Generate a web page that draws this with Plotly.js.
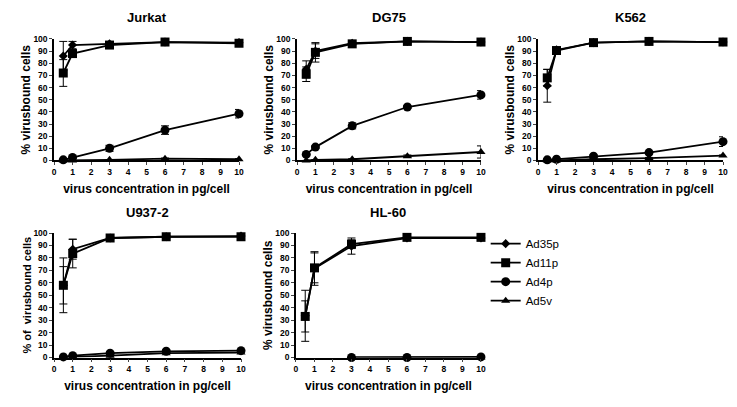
<!DOCTYPE html>
<html>
<head>
<meta charset="utf-8">
<script src="https://cdn.plot.ly/plotly-3.0.1.min.js"></script>
<style>
  html, body { margin: 0; padding: 0; background: #fff; }
  #chart { width: 737px; height: 407px; }
</style>
</head>
<body>
<div id="chart"></div>
<script>
// virus dose (pg/cell) shared by every panel
const doses = [0.5, 1, 3, 6, 10];
const seriesNames = ["Ad35p", "Ad11p", "Ad4p", "Ad5v"];
const cellLines = ["Jurkat", "DG75", "K562", "U937-2", "HL-60"];

// rows follow seriesNames: Ad35p, Ad11p, Ad4p, Ad5v
const jurkatMean = [
  [86, 95, 96, 97.5, 97],
  [72, 88, 95, 97.5, 96.5],
  [0.5, 2.5, 10, 25, 38.5],
  [0, 0, 0.5, 1.5, 1]
];
const jurkatErr = [
  [12, 3, 1, 1, 1],
  [11, 3, 1, 1, 1],
  [0, 1, 2.5, 3.5, 3.5],
  [0, 0, 0, 0.5, 0.5]
];

const dg75Mean = [
  [75, 90, 96.5, 98, 97.5],
  [71, 89, 96, 98, 97.5],
  [5, 11, 28.5, 44, 54],
  [0, 0.5, 1, 3.5, 7]
];
const dg75Err = [
  [7, 6, 1, 1, 1],
  [6, 8, 1, 1, 1],
  [0.5, 1, 2.5, 1, 3.5],
  [0, 0, 0.5, 1, 5]
];

const k562Mean = [
  [61.5, 91, 97, 98, 97.5],
  [68, 90.5, 97, 98, 97.5],
  [0.5, 1, 3.5, 6.5, 15.5],
  [0, 0, 1, 2, 4]
];
const k562Err = [
  [13.5, 1, 1, 1, 1],
  [7, 1, 1, 1, 1],
  [0, 0.5, 1, 1, 4],
  [0, 0, 0.5, 0.5, 0.5]
];

const u937Mean = [
  [58, 87, 96, 97, 97.5],
  [58, 83.5, 96, 97, 97],
  [0.5, 1.5, 3.5, 5, 5.5],
  [0, 0.5, 1.5, 3.5, 4]
];
const u937Err = [
  [22, 8, 1, 1, 1],
  [15, 11.5, 1, 1, 1],
  [0, 0.5, 1, 1, 1],
  [0, 0, 0.5, 0.5, 0.5]
];

const hl60Mean = [
  [33.5, 71.5, 89.5, 96, 96],
  [33, 72, 91, 96.5, 96.5],
  [null, null, 0, 0, 0.5],
  [null, null, 0, 0, 0]
];
const hl60Err = [
  [20.5, 13.5, 6.5, 1, 1],
  [12.5, 12, 3.5, 1, 1],
  [0, 0, 0, 0, 0],
  [0, 0, 0, 0, 0]
];

const yTitles = [
  "% virusbound cells", "% virusbound cells", "% virusbound cells",
  "% of  virusbound cells", "% virusbound cells"
];

const panelMeans = [jurkatMean, dg75Mean, k562Mean, u937Mean, hl60Mean];
const panelErrs = [jurkatErr, dg75Err, k562Err, u937Err, hl60Err];

const symbols = ["diamond", "square", "circle", "triangle-up"];
const symbolSizes = [7, 9, 9, 8];

// panel placement in paper fractions
const xDomains = [[0.0733, 0.3243], [0.4030, 0.6526], [0.7300, 0.9810], [0.0733, 0.3270], [0.4016, 0.6526]];
const yDomains = [[0.6057, 0.9042], [0.6057, 0.9042], [0.6057, 0.9042], [0.1216, 0.4275], [0.1216, 0.4275]];
const titleY = [0.9558, 0.9558, 0.9558, 0.4767, 0.4767];

const FONT = "Liberation Sans, Arial, Helvetica, sans-serif";

const traces = [];
cellLines.forEach((cell, p) => {
  const ax = p === 0 ? "" : String(p + 1);
  seriesNames.forEach((name, s) => {
    traces.push({
      type: "scatter",
      mode: "lines+markers",
      x: doses,
      y: panelMeans[p][s],
      name: name,
      legendgroup: name,
      showlegend: p === 0,
      xaxis: "x" + ax,
      yaxis: "y" + ax,
      cliponaxis: false,
      line: { color: "#000", width: 1.8 },
      marker: { symbol: symbols[s], size: symbolSizes[s], color: "#000" },
      error_y: { type: "data", array: panelErrs[p][s], visible: true, color: "#000", thickness: 1, width: 4 },
      hovertemplate: `<b>${cell} ${name}</b><br>%{x} pg/cell — %{y}%<extra></extra>`
    });
  });
});

const layout = {
  width: 737,
  height: 407,
  paper_bgcolor: "#fff",
  plot_bgcolor: "rgba(0,0,0,0)",
  margin: { l: 0, r: 0, t: 0, b: 0 },
  font: { family: FONT, color: "#000" },
  showlegend: true,
  legend: {
    x: 0.659, y: 0.437, xanchor: "left", yanchor: "top",
    font: { family: FONT, size: 11.5, color: "#000" },
    itemwidth: 30, tracegroupgap: 0, bgcolor: "rgba(0,0,0,0)"
  },
  annotations: []
};

cellLines.forEach((cell, p) => {
  const ax = p === 0 ? "" : String(p + 1);
  layout["xaxis" + ax] = {
    domain: xDomains[p],
    anchor: "y" + ax,
    range: [0, 10],
    dtick: 1,
    tick0: 0,
    ticks: "outside",
    ticklen: 3,
    tickwidth: 1,
    showline: true,
    linecolor: "#000",
    linewidth: 1.5,
    showgrid: false,
    zeroline: false,
    tickfont: { family: FONT, size: 8.5, weight: "bold" },
    title: { text: "virus concentration in pg/cell", font: { family: FONT, size: 12, weight: "bold" }, standoff: 8 }
  };
  layout["yaxis" + ax] = {
    domain: yDomains[p],
    anchor: "x" + ax,
    range: [0, 100],
    dtick: 10,
    tick0: 0,
    ticks: "outside",
    ticklen: 3,
    tickwidth: 1,
    showline: true,
    linecolor: "#000",
    linewidth: 1.5,
    showgrid: false,
    zeroline: false,
    tickfont: { family: FONT, size: 8.5, weight: "bold" },
    title: { text: yTitles[p], font: { family: FONT, size: p === 3 ? 11 : 12, weight: "bold" }, standoff: 0 }
  };
  layout.annotations.push({
    text: cell,
    xref: "paper", yref: "paper",
    x: (xDomains[p][0] + xDomains[p][1]) / 2,
    y: titleY[p],
    xanchor: "center", yanchor: "middle",
    showarrow: false,
    font: { family: FONT, size: 13, weight: "bold" }
  });
});

Plotly.newPlot("chart", traces, layout, { displayModeBar: false, responsive: false });
</script>
</body>
</html>
